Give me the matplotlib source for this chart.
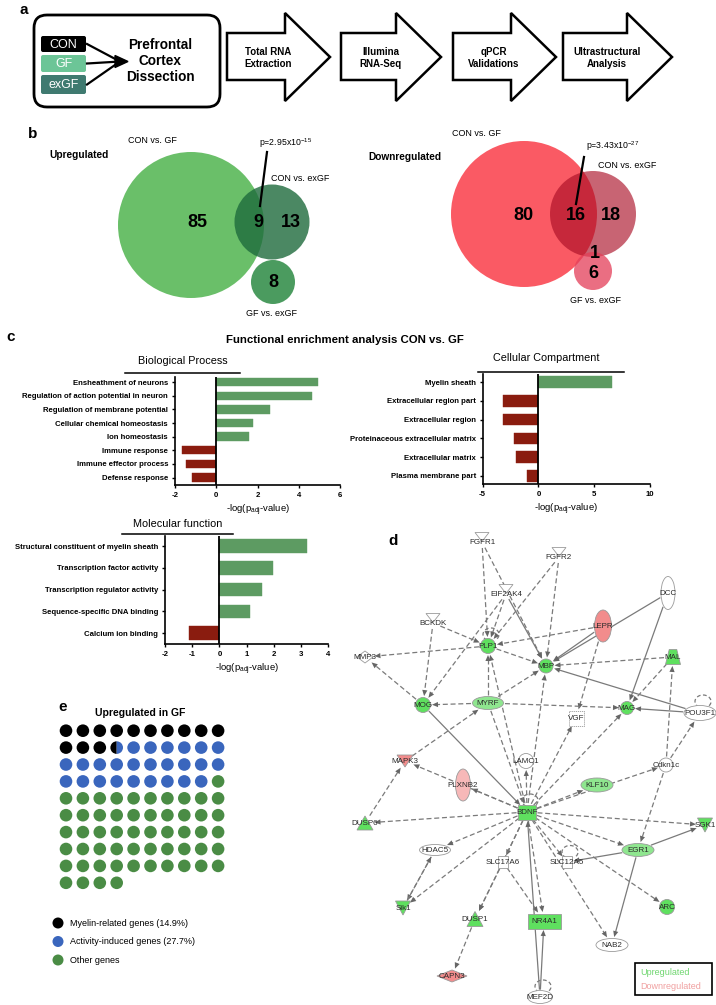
import numpy as np
import matplotlib
matplotlib.use('Agg')
import matplotlib.pyplot as plt
from matplotlib import patches

plt.rcParams['font.family'] = ['Liberation Sans', 'DejaVu Sans']
plt.rcParams['mathtext.fontset'] = 'custom'
plt.rcParams['mathtext.rm'] = 'Liberation Sans'
plt.rcParams['mathtext.it'] = 'Liberation Sans:italic'
plt.rcParams['mathtext.bf'] = 'Liberation Sans:bold'

W, H = 716, 1005

# ---- panel a ----
groups = ['CON', 'GF', 'exGF']
group_colors = ['#000000', '#6cc597', '#3f7a70']
steps = ['Total RNA\nExtraction', 'Illumina\nRNA-Seq', 'qPCR\nValidations', 'Ultrastructural\nAnalysis']

# ---- panel b ----
up_labels = ['85', '9', '13', '8']
down_labels = ['80', '16', '18', '1', '6']
up_p = r'p=2.95x10$^{-15}$'
down_p = r'p=3.43x10$^{-27}$'

# ---- panel c ----
bp_terms = ['Ensheathment of neurons', 'Regulation of action potential in neuron',
            'Regulation of membrane potential', 'Cellular chemical homeostasis',
            'Ion homeostasis', 'Immune response', 'Immune effector process', 'Defense response']
bp_vals = [4.95, 4.65, 2.6, 1.77, 1.58, -1.68, -1.45, -1.2]
cc_terms = ['Myelin sheath', 'Extracellular region part', 'Extracellular region',
            'Proteinaceous extracellular matrix', 'Extracellular matrix', 'Plasma membrane part']
cc_vals = [6.55, -3.15, -3.15, -2.2, -2.05, -1.0]
mf_terms = ['Structural constituent of myelin sheath', 'Transcription factor activity',
            'Transcription regulator activity', 'Sequence-specific DNA binding', 'Calcium ion binding']
mf_vals = [3.22, 1.97, 1.55, 1.12, -1.1]

# ---- panel d ----
nodes = ['FGFR1', 'FGFR2', 'EIF2AK4', 'BCKDK', 'PLP1', 'MBP', 'LEPR', 'DCC', 'MAL', 'MMP3',
         'MOG', 'MYRF', 'MAG', 'VGF', 'POU3F1', 'LAMC1', 'MAPK3', 'Cdkn1c', 'PLXNB2', 'KLF10',
         'BDNF', 'DUSP6', 'SGK1', 'HDAC5', 'SLC17A6', 'SLC12A5', 'EGR1', 'Sik1', 'DUSP1', 'NR4A1',
         'ARC', 'NAB2', 'CAPN3', 'MEF2D']
node_x = [482, 559, 506, 433, 488, 546, 603, 668, 673, 365, 423, 488, 627, 576, 700, 526, 405, 666,
          463, 597, 527, 365, 705, 435, 503, 567, 638, 403, 475, 544, 667, 612, 452, 540]
node_y = [542, 557, 594, 623, 646, 666, 626, 593, 657, 657, 705, 703, 708, 718, 713, 761, 761, 765,
          785, 785, 812, 823, 825, 850, 862, 862, 850, 908, 919, 921, 907, 945, 976, 997]
node_shape = ['tri_down', 'tri_down', 'tri_down', 'tri_down', 'ell', 'ell', 'ell', 'ell', 'trap', 'diamond',
              'ell', 'ell', 'ell', 'rect', 'ell', 'ell', 'tri_down', 'ell', 'ell', 'ell',
              'rect', 'tri_up', 'tri_down', 'ell', 'rect', 'rect', 'ell', 'tri_down', 'tri_up', 'rect',
              'ell', 'ell', 'diamond', 'ell']
node_w = [14, 14, 14, 14, 15, 14, 17, 14, 15, 16, 15, 31, 13, 15, 32, 15, 16, 14,
          15, 32, 18, 16, 15, 31, 10, 10, 32, 15, 16, 33, 15, 32, 30, 25]
node_h = [9, 9, 9, 9, 15, 14, 32, 33, 15, 12, 15, 13, 13, 15, 15, 15, 12, 14,
          32, 14, 15, 14, 14, 11, 12, 12, 13, 14, 15, 15, 15, 13, 12, 13]
node_reg = ['n', 'n', 'n', 'n', 'u', 'u', 'd', 'n', 'u', 'n', 'u', 'l', 'u', 'n', 'n', 'n', 'd', 'n',
            'p', 'l', 'u', 'u', 'u', 'n', 'n', 'n', 'l', 'u', 'u', 'u', 'u', 'n', 'd', 'n']
edges = [('FGFR1', 'PLP1', 'd'), ('FGFR1', 'MBP', 'd'), ('FGFR2', 'PLP1', 'd'), ('FGFR2', 'MBP', 'd'),
         ('EIF2AK4', 'PLP1', 'd'), ('EIF2AK4', 'MOG', 'd'), ('EIF2AK4', 'MBP', 's'),
         ('BCKDK', 'PLP1', 'd'), ('BCKDK', 'MOG', 'd'), ('LEPR', 'PLP1', 'd'), ('LEPR', 'MBP', 's'),
         ('LEPR', 'VGF', 'd'), ('DCC', 'MBP', 's'), ('DCC', 'MAG', 's'), ('MAL', 'MBP', 'd'),
         ('MAL', 'MAG', 'd'), ('POU3F1', 'MBP', 's'), ('POU3F1', 'MAG', 's'), ('Cdkn1c', 'MAL', 'd'),
         ('Cdkn1c', 'POU3F1', 'd'), ('Cdkn1c', 'EGR1', 'd'), ('PLP1', 'MMP3', 'd'), ('MOG', 'MMP3', 'd'),
         ('PLP1', 'MBP', 'd'), ('MYRF', 'MOG', 'd'), ('MYRF', 'PLP1', 'd'), ('MYRF', 'MBP', 'd'),
         ('MYRF', 'MAG', 'd'), ('MAPK3', 'MYRF', 'd'), ('DUSP6', 'MAPK3', 'd'), ('MOG', 'BDNF', 's'),
         ('BDNF', 'PLP1', 'd'), ('BDNF', 'MBP', 'd'), ('MYRF', 'BDNF', 'd'), ('BDNF', 'LAMC1', 'd'),
         ('BDNF', 'VGF', 'd'), ('BDNF', 'MAG', 'd'), ('BDNF', 'KLF10', 'd'), ('BDNF', 'Cdkn1c', 'd'),
         ('BDNF', 'PLXNB2', 'd'), ('BDNF', 'MAPK3', 'd'), ('BDNF', 'DUSP6', 'd'), ('BDNF', 'SGK1', 'd'),
         ('BDNF', 'EGR1', 'd'), ('BDNF', 'HDAC5', 'd'), ('BDNF', 'SLC17A6', 'd'), ('BDNF', 'SLC12A5', 'd'),
         ('BDNF', 'Sik1', 'd'), ('BDNF', 'DUSP1', 'd'), ('BDNF', 'NR4A1', 'd'), ('BDNF', 'ARC', 'd'),
         ('BDNF', 'NAB2', 'd'), ('EGR1', 'SGK1', 's'), ('EGR1', 'NAB2', 's'), ('EGR1', 'SLC12A5', 's'),
         ('SLC17A6', 'NR4A1', 'd'), ('SLC17A6', 'DUSP1', 'd'), ('HDAC5', 'Sik1', 'd'), ('Sik1', 'HDAC5', 'd'),
         ('DUSP1', 'CAPN3', 'd'), ('MEF2D', 'NR4A1', 's'), ('MEF2D', 'BDNF', 's')]
self_loops = ['PLP1', 'BDNF', 'SLC12A5', 'MEF2D', 'POU3F1']

# ---- panel e ----
waffle_names = ['Myelin-related genes (14.9%)', 'Activity-induced genes (27.7%)', 'Other genes']
waffle_counts = [13.5, 25.5, 55]
waffle_colors = ['#000000', '#3a66bd', '#4a8c45']

fig = plt.figure(figsize=(W / 100, H / 100), dpi=100)
bg = fig.add_axes([0, 0, 1, 1])
bg.set_xlim(0, W)
bg.set_ylim(H, 0)
bg.axis('off')

def plabel(x, y, s):
    bg.text(x, y, s, fontsize=11, fontweight='bold', ha='left', va='center')

# ================= a =================
plabel(20, 10, 'a')
bg.add_patch(patches.FancyBboxPatch((34, 15), 186, 92, boxstyle='round,pad=0,rounding_size=13',
                                    fc='white', ec='black', lw=2))
for i, (g, c) in enumerate(zip(groups, group_colors)):
    y0 = [36, 55, 75][i]
    hh = [16, 17, 19][i]
    bg.add_patch(patches.FancyBboxPatch((41, y0), 45, hh, boxstyle='round,pad=0,rounding_size=2',
                                        fc=c, ec='none'))
    bg.text(63.5, y0 + hh / 2 + 0.5, g, color='white', fontsize=9, ha='center', va='center')
    bg.plot([87, 120], [y0 + hh / 2, 61.5], color='black', lw=1.6)
bg.add_patch(patches.Polygon([[115, 55.5], [128, 61.5], [115, 67.5]], closed=True, fc='black', ec='black'))
bg.text(160, 61, 'Prefrontal\nCortex\nDissection', fontsize=9.8, fontweight='bold', ha='center',
        va='center', linespacing=1.15)

arrow_x0 = [227, 341, 453, 563]
arrow_x1 = [330, 441, 556, 672]
for x0, x1, s in zip(arrow_x0, arrow_x1, steps):
    xh = x1 - 45
    pts = [[x0, 33], [xh, 33], [xh, 13], [x1, 57], [xh, 101], [xh, 80], [x0, 80]]
    bg.add_patch(patches.Polygon(pts, closed=True, fc='white', ec='black', lw=1.8, joinstyle='miter'))
    bg.text((x0 + xh) / 2 + 12, 58, s, fontsize=7, fontweight='bold', ha='center', va='center',
            linespacing=1.3)

# ================= b =================
plabel(28, 134, 'b')
# upregulated
bg.add_patch(patches.Circle((191, 225), 73, fc='#6abf69', ec='none'))
bg.add_patch(patches.Circle((273, 282), 22, fc='#4b9b5f', ec='none'))
bg.add_patch(patches.Circle((272, 222), 37.5, fc='#1e6b3c', ec='none', alpha=0.8))
for s, (x, y) in zip(up_labels, [(197, 222), (258, 222), (291, 222), (273, 282)]):
    bg.text(x, y, s, fontsize=13, fontweight='bold', ha='center', va='center')
bg.plot([267, 260], [152, 206], color='black', lw=1.6)
bg.text(259, 143, up_p, fontsize=6.3, ha='left', va='center')
bg.text(152, 140, 'CON vs. GF', fontsize=6.5, ha='center', va='center')
bg.text(79, 155, 'Upregulated', fontsize=7.3, fontweight='bold', ha='center', va='center')
bg.text(300, 178, 'CON vs. exGF', fontsize=6.5, ha='center', va='center')
bg.text(272, 313, 'GF vs. exGF', fontsize=6.5, ha='center', va='center')
# downregulated
bg.add_patch(patches.Circle((524, 214), 73, fc='#fa5a64', ec='none'))
bg.add_patch(patches.Circle((593, 214), 43, fc='#a90d24', ec='none', alpha=0.64))
bg.add_patch(patches.Circle((593, 271), 19, fc='#e43e58', ec='none', alpha=0.75))
for s, (x, y) in zip(down_labels, [(523, 215), (576, 215), (611, 215), (595, 253), (593, 273)]):
    bg.text(x, y, s, fontsize=13, fontweight='bold', ha='center', va='center')
bg.plot([584, 576], [157, 204], color='black', lw=1.6)
bg.text(586, 146, down_p, fontsize=6.3, ha='left', va='center')
bg.text(476, 133, 'CON vs. GF', fontsize=6.5, ha='center', va='center')
bg.text(405, 157, 'Downregulated', fontsize=7.3, fontweight='bold', ha='center', va='center')
bg.text(627, 165, 'CON vs. exGF', fontsize=6.5, ha='center', va='center')
bg.text(595, 300, 'GF vs. exGF', fontsize=6.5, ha='center', va='center')

# ================= c =================
plabel(6, 337, 'c')
bg.text(345, 340, 'Functional enrichment analysis CON vs. GF', fontsize=8.2, fontweight='bold',
        ha='center', va='center')

def bar_panel(px, terms, vals, xlim, xticks, ylim):
    x0, x1, y0, y1 = px
    ax = fig.add_axes([x0 / W, 1 - y1 / H, (x1 - x0) / W, (y1 - y0) / H])
    pos = np.arange(len(vals))
    cols = ['#5d9b62' if v > 0 else '#8a1c0f' for v in vals]
    ax.barh(pos, vals, height=0.62, color=cols, edgecolor=cols, lw=0.3)
    ax.axvline(0, color='black', lw=1.3)
    ax.set_xlim(xlim)
    ax.set_ylim(ylim)
    ax.set_xticks(xticks)
    ax.set_yticks(pos)
    ax.set_yticklabels(terms, fontsize=5.6, fontweight='bold')
    ax.set_xticklabels([str(t) for t in xticks], fontsize=5.6, fontweight='bold')
    for sp in ['top', 'right']:
        ax.spines[sp].set_visible(False)
    for sp in ['left', 'bottom']:
        ax.spines[sp].set_linewidth(1.2)
    ax.tick_params(length=2.5, width=1, pad=2.5)
    ax.set_xlabel(r'-log(p$_{\rm adj}$-value)', fontsize=6.8, labelpad=3)
    ax.patch.set_alpha(0)
    return ax

bar_panel((175, 340, 377, 485), bp_terms, bp_vals, (-2, 6), [-2, 0, 2, 4, 6], (7.55, -0.38))
bar_panel((482.7, 650, 374, 484), cc_terms, cc_vals, (-5, 10), [-5, 0, 5, 10], (5.43, -0.43))
bar_panel((165, 328.3, 536, 644), mf_terms, mf_vals, (-2, 4), [-2, -1, 0, 1, 2, 3, 4], (4.5, -0.46))

for title, tx, ty, lx0, lx1, ly in [('Biological Process', 183, 361, 125, 240, 373),
                                     ('Cellular Compartment', 546, 358, 478, 624, 372),
                                     ('Molecular function', 178, 524, 122, 233, 534)]:
    bg.text(tx, ty, title, fontsize=7.8, ha='center', va='center')
    bg.plot([lx0, lx1], [ly, ly], color='black', lw=1.1)

# ================= d =================
plabel(388, 541, 'd')
idx = {n: i for i, n in enumerate(nodes)}
fill = {'u': '#5fe05f', 'l': '#8fe68f', 'd': '#f28c8c', 'p': '#f7b8b8', 'n': 'white'}
gray = '#7a7a7a'

def radius(i, ux, uy):
    a = node_w[i] / 2 + 1.5
    b = node_h[i] / 2 + 1.5
    return 1.0 / np.sqrt((ux / a) ** 2 + (uy / b) ** 2)

for s, t, st in edges:
    i, j = idx[s], idx[t]
    xs, ys = node_x[i], node_y[i]
    xt, yt = node_x[j], node_y[j]
    dx, dy = xt - xs, yt - ys
    L = np.hypot(dx, dy)
    ux, uy = dx / L, dy / L
    ra, rb = radius(i, ux, uy), radius(j, ux, uy)
    p0 = (xs + ux * ra, ys + uy * ra)
    p1 = (xt - ux * rb, yt - uy * rb)
    ls = (0, (4, 2.2)) if st == 'd' else '-'
    bg.plot([p0[0], p1[0] - ux * 4], [p0[1], p1[1] - uy * 4], color=gray, lw=0.9, ls=ls, zorder=2)
    hx, hy = p1[0] - ux * 6, p1[1] - uy * 6
    bg.add_patch(patches.Polygon([[p1[0], p1[1]], [hx - uy * 2.6, hy + ux * 2.6], [hx + uy * 2.6, hy - ux * 2.6]],
                                 closed=True, fc='#666666', ec='none', zorder=2))

for n in self_loops:
    i = idx[n]
    cy = node_y[i] - node_h[i] / 2 - 4
    bg.add_patch(patches.Arc((node_x[i] + 3, cy), 16, 13, theta1=125, theta2=55 + 360, color=gray,
                             lw=0.9, ls=(0, (3, 2)), zorder=2))

for i, n in enumerate(nodes):
    x, y, w, h = node_x[i], node_y[i], node_w[i], node_h[i]
    fc = fill[node_reg[i]]
    kw = dict(fc=fc, ec='#9a9a9a', lw=0.6, zorder=3)
    sh = node_shape[i]
    if sh == 'ell':
        p = patches.Ellipse((x, y), w, h, **kw)
    elif sh == 'rect':
        p = patches.Rectangle((x - w / 2, y - h / 2), w, h, **kw)
        if n == 'VGF':
            p.set_linestyle((0, (1.5, 1)))
    elif sh == 'tri_down':
        yy = y - 5 if node_reg[i] == 'n' else y
        p = patches.Polygon([[x - w / 2, yy - h / 2], [x + w / 2, yy - h / 2], [x, yy + h / 2]], **kw)
    elif sh == 'tri_up':
        p = patches.Polygon([[x - w / 2, y + h / 2], [x + w / 2, y + h / 2], [x, y - h / 2]], **kw)
    elif sh == 'trap':
        p = patches.Polygon([[x - w / 2, y + h / 2], [x + w / 2, y + h / 2], [x + w / 4, y - h / 2],
                             [x - w / 4, y - h / 2]], **kw)
    else:
        p = patches.Polygon([[x - w / 2, y], [x, y - h / 2], [x + w / 2, y], [x, y + h / 2]], **kw)
    bg.add_patch(p)
    bg.text(x, y + 0.5, n, fontsize=5.8, color='#2a2a2a', ha='center', va='center', zorder=4)

bg.add_patch(patches.Rectangle((635, 963), 77, 32, fc='white', ec='black', lw=1.2, zorder=3))
bg.text(640, 972, 'Upregulated', fontsize=6.5, color='#6fd66f', ha='left', va='center', zorder=4)
bg.text(640, 986, 'Downregulated', fontsize=6.5, color='#f0a0a0', ha='left', va='center', zorder=4)

# ================= e =================
plabel(58, 707, 'e')
bg.text(140, 713, 'Upregulated in GF', fontsize=7.5, fontweight='bold', ha='center', va='center')
bounds = np.cumsum(waffle_counts)
total = int(round(bounds[-1]))
r = 6.3
for k in range(total):
    cx = 66 + (k % 10) * 16.9
    cy = 730.7 + (k // 10) * 16.9
    cat = int(np.searchsorted(bounds, k, side='right'))
    if cat < len(bounds) - 1 and k < bounds[cat] < k + 1:
        bg.add_patch(patches.Wedge((cx, cy), r, 90, 270, fc=waffle_colors[cat], ec='none'))
        bg.add_patch(patches.Wedge((cx, cy), r, -90, 90, fc=waffle_colors[cat + 1], ec='none'))
    else:
        bg.add_patch(patches.Circle((cx, cy), r, fc=waffle_colors[cat], ec='none'))

for i, (nm, c) in enumerate(zip(waffle_names, waffle_colors)):
    yy = 923 + i * 18.5
    bg.add_patch(patches.Circle((58, yy), 5.5, fc=c, ec='none'))
    bg.text(70, yy, nm, fontsize=6.5, ha='left', va='center')

fig.savefig('out.png', dpi=100)
